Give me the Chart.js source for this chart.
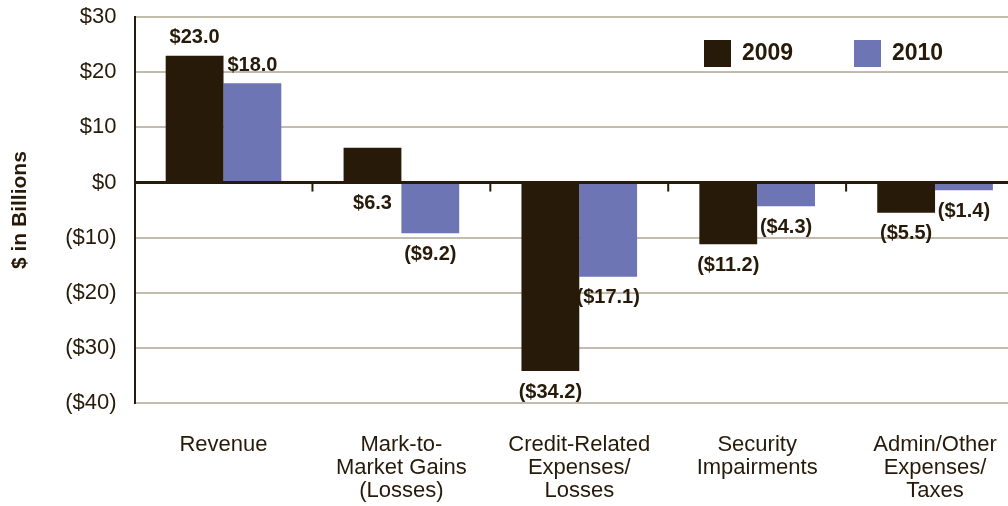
<!DOCTYPE html>
<html>
<head>
<meta charset="utf-8">
<script src="https://cdn.jsdelivr.net/npm/chart.js@4.4.1/dist/chart.umd.min.js"></script>
<style>
  html, body { margin: 0; padding: 0; background: #fff; overflow: hidden; }
  #wrap { width: 1030px; height: 520px; position: relative; margin-top: -14px; }
</style>
</head>
<body>
<div id="wrap"><canvas id="c"></canvas></div>
<script>
// chart data
const categories = [
  'Revenue',
  ['Mark-to-', 'Market Gains', '(Losses)'],
  ['Credit-Related', 'Expenses/', 'Losses'],
  ['Security', 'Impairments'],
  ['Admin/Other', 'Expenses/', 'Taxes']
];
const seriesNames = ['2009', '2010'];
const values2009 = [23.0, 6.3, -34.2, -11.2, -5.5];
const values2010 = [18.0, -9.2, -17.1, -4.3, -1.4];
const yTicks = [30, 20, 10, 0, -10, -20, -30, -40];

const C09 = '#271a09', C10 = '#6d75b5', GRID = '#c3bcae', INK = '#271a09';
const FONT = '"Liberation Sans", Arial, sans-serif';

const money = v => v < 0 ? `($${Math.abs(v).toFixed(1)})` : `$${v.toFixed(1)}`;
const tickMoney = v => v < 0 ? `($${Math.abs(v)})` : `$${v}`;

// which labels sit under the zero line instead of at the bar end
const labelAtBase = [[false, true, false, false, false], [false, false, false, false, false]];

const extras = {
  id: 'extras',
  afterDatasetsDraw(chart) {
    const { ctx, chartArea: a, scales: { x, y } } = chart;
    const y0 = y.getPixelForValue(0);
    ctx.save();
    // zero line
    ctx.strokeStyle = INK; ctx.lineWidth = 3;
    ctx.beginPath(); ctx.moveTo(a.left, y0); ctx.lineTo(a.right, y0); ctx.stroke();
    // category ticks below zero
    ctx.lineWidth = 2;
    for (let i = 0; i < categories.length - 1; i++) {
      const bx = (x.getPixelForValue(i) + x.getPixelForValue(i + 1)) / 2;
      ctx.beginPath(); ctx.moveTo(bx, y0); ctx.lineTo(bx, y0 + 9); ctx.stroke();
    }
    // value labels
    ctx.fillStyle = INK;
    ctx.font = `bold 20px ${FONT}`;
    ctx.textAlign = 'center'; ctx.textBaseline = 'middle';
    chart.data.datasets.forEach((ds, di) => {
      chart.getDatasetMeta(di).data.forEach((bar, i) => {
        const v = ds.data[i];
        let ly;
        if (labelAtBase[di][i]) ly = y0 + 21;
        else ly = v >= 0 ? bar.y - 18 : bar.y + 21;
        ctx.fillText(money(v), bar.x, ly);
      });
    });
    // legend
    ctx.font = `bold 23px ${FONT}`;
    ctx.textAlign = 'left';
    const lx = [704, 854];
    chart.data.datasets.forEach((ds, di) => {
      ctx.fillStyle = ds.backgroundColor;
      ctx.fillRect(lx[di], 54, 27, 27);
      ctx.fillStyle = INK;
      ctx.fillText(ds.label, lx[di] + 38, 68);
    });
    ctx.restore();
  }
};

new Chart(document.getElementById('c'), {
  type: 'bar',
  data: {
    labels: categories,
    datasets: [
      { label: seriesNames[0], data: values2009, backgroundColor: C09 },
      { label: seriesNames[1], data: values2010, backgroundColor: C10 }
    ]
  },
  options: {
    responsive: true, maintainAspectRatio: false, animation: false,
    categoryPercentage: 0.65, barPercentage: 1.0,
    layout: { padding: { top: 0, right: 6, left: 4, bottom: 0 } },
    plugins: { legend: { display: false }, tooltip: { enabled: false } },
    scales: {
      x: {
        grid: { display: false },
        border: { display: false },
        afterFit: s => { s.height = 103; },
        ticks: { color: INK, font: { family: FONT, size: 22, lineHeight: 1.05 }, padding: 22, maxRotation: 0, autoSkip: false }
      },
      y: {
        min: -40, max: 30,
        afterBuildTicks: s => { s.ticks = yTicks.map(v => ({ value: v })); },
        grid: { color: GRID, lineWidth: 2, drawTicks: false },
        border: { color: INK, width: 2 },
        ticks: { color: INK, font: { family: FONT, size: 22 }, padding: 18, callback: tickMoney },
        title: { display: true, text: '$ in Billions', color: INK, font: { family: FONT, size: 21, weight: 'bold' }, padding: { top: 4, bottom: 14 } }
      }
    }
  },
  plugins: [extras]
});
</script>
</body>
</html>
